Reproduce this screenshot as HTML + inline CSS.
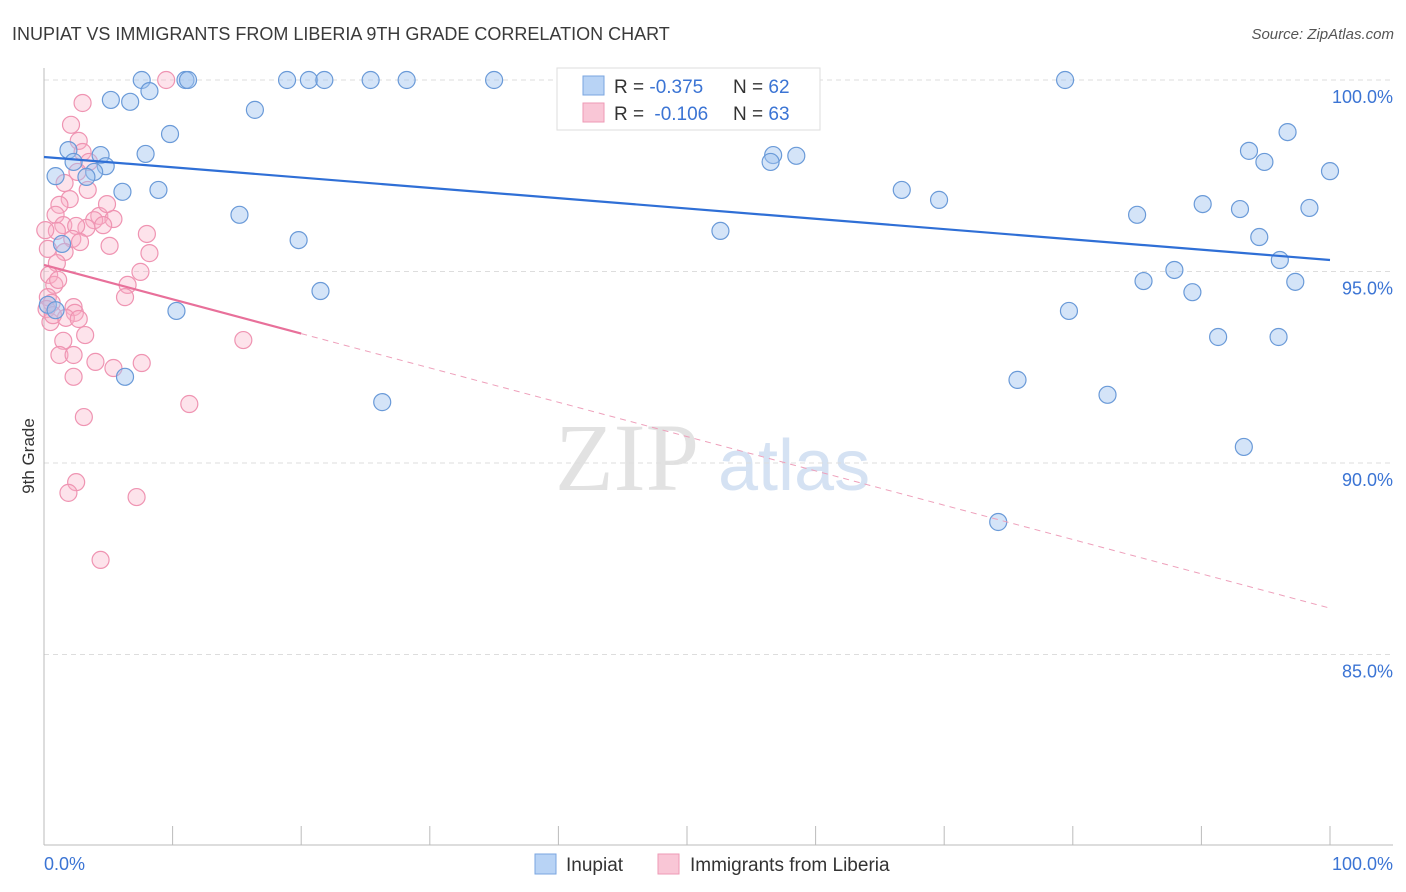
<!DOCTYPE html>
<html><head><meta charset="utf-8"><style>
body{margin:0;background:#fff;font-family:"Liberation Sans",sans-serif;}
svg{display:block}
</style></head><body>
<svg id="chart" width="1406" height="892" xmlns="http://www.w3.org/2000/svg">
<text x="12" y="40" font-size="18" fill="#3a3a3a">INUPIAT VS IMMIGRANTS FROM LIBERIA 9TH GRADE CORRELATION CHART</text>
<text x="1394" y="39" font-size="15" fill="#555" text-anchor="end" font-style="italic">Source: ZipAtlas.com</text>
<text x="34" y="456" font-size="17" fill="#333" text-anchor="middle" transform="rotate(-90 34 456)">9th Grade</text>
<text x="555" y="490" font-size="96" fill="#e2e2e2" font-family="Liberation Serif,serif">ZIP</text>
<text x="718" y="490" font-size="72" fill="#d5e2f3">atlas</text>
<g id="grid"></g><g id="axes"></g><g id="pts"></g><g id="trend"></g>
<g>
<rect x="557" y="68" width="263" height="62" fill="#fff" stroke="#ddd"/>
<rect x="583" y="76" width="21" height="19" fill="#b8d3f5" stroke="#7aa6e0"/>
<rect x="583" y="103" width="21" height="19" fill="#f9c6d6" stroke="#ee9ab5"/>
<text x="614" y="93" font-size="19" fill="#333">R = <tspan fill="#3b74d4">-0.375</tspan><tspan x="733">N = </tspan><tspan fill="#3b74d4">62</tspan></text>
<text x="614" y="120" font-size="19" fill="#333">R = <tspan fill="#3b74d4" dx="5">-0.106</tspan><tspan x="733">N = </tspan><tspan fill="#3b74d4">63</tspan></text>
</g>
<g>
<rect x="535" y="854" width="21" height="20" fill="#b8d3f5" stroke="#7aa6e0"/>
<text x="566" y="871" font-size="19" fill="#333">Inupiat</text>
<rect x="658" y="854" width="21" height="20" fill="#f9c6d6" stroke="#ee9ab5"/>
<text x="690" y="871" font-size="19" fill="#333">Immigrants from Liberia</text>
</g>
</svg>
<script>
const yTicks=[100,95,90,85];
const xTickLabels=["0.0%","100.0%"];
const blueX=[7.6,11.0,11.2,18.9,20.6,21.8,25.4,28.2,35.0,47.2,79.4,5.2,8.2,6.7,16.4,9.8,1.9,96.7,93.7,94.9,4.4,7.9,2.3,4.8,56.7,56.5,58.5,0.9,3.9,3.3,100,6.1,8.9,66.7,69.6,15.2,85.0,90.1,93.0,98.4,52.6,19.8,94.5,1.4,96.1,87.9,85.5,97.3,21.5,89.3,0.3,0.9,10.3,79.7,91.3,96.0,6.3,75.7,82.7,26.3,93.3,74.2];
const blueY=[100,100,100,100,100,100,100,100,100,100,100,99.48,99.71,99.43,99.22,98.59,98.17,98.64,98.15,97.86,98.04,98.07,97.86,97.75,98.04,97.86,98.02,97.49,97.6,97.47,97.62,97.08,97.13,97.13,96.87,96.48,96.48,96.76,96.63,96.66,96.06,95.82,95.9,95.72,95.3,95.04,94.75,94.73,94.49,94.46,94.13,93.99,93.97,93.97,93.29,93.29,92.25,92.17,91.78,91.59,90.42,88.46];
const pinkX=[9.5,3.0,2.1,2.7,3.0,3.5,2.6,1.6,3.4,2.0,1.2,0.9,4.3,5.4,4.9,3.9,3.3,4.6,1.5,1.0,2.5,8.0,2.2,5.1,2.8,0.3,8.2,1.6,1.0,7.5,0.4,0.8,6.5,6.3,0.3,0.6,0.2,2.3,2.4,1.7,2.7,0.5,3.2,15.5,1.5,1.2,2.3,4.0,5.4,7.6,2.3,11.3,3.1,2.5,1.9,7.2,4.4,0.7,1.1,0.1];
const pinkY=[100,99.4,98.83,98.41,98.12,97.86,97.6,97.31,97.13,96.89,96.74,96.48,96.45,96.37,96.76,96.34,96.14,96.21,96.21,96.06,96.19,95.98,95.85,95.67,95.77,95.59,95.48,95.51,95.22,94.99,94.91,94.65,94.65,94.33,94.33,94.18,94.02,94.07,93.92,93.79,93.76,93.68,93.34,93.21,93.19,92.82,92.82,92.64,92.48,92.61,92.25,91.54,91.2,89.5,89.22,89.11,87.47,93.86,94.78,96.08];
const blueTrend=[97.99,95.3];
const pinkTrend=[95.17,86.21];
const pinkSolidEnd=20;
const NS="http://www.w3.org/2000/svg";
const X=v=>44+v*12.86, Y=v=>80+(100-v)*38.3;
function mk(p,t,a){const e=document.createElementNS(NS,t);for(const k in a)e.setAttribute(k,a[k]);p.appendChild(e);return e;}
const grid=document.getElementById('grid'),axes=document.getElementById('axes'),pts=document.getElementById('pts'),tr=document.getElementById('trend');
yTicks.forEach(v=>{
 const l=mk(grid,'line',{x1:44,x2:1393,y1:Y(v),y2:Y(v),stroke:'#ddd','stroke-dasharray':'5,4'});
 
 
 const t=mk(grid,'text',{x:1393,y:Y(v)+23,'font-size':18,fill:'#3b74d4','text-anchor':'end'});
 t.textContent=v.toFixed(1)+'%';
 
 
});
let a=mk(axes,'line',{x1:44,x2:44,y1:68,y2:845,stroke:'#bbb'});


a=mk(axes,'line',{x1:44,x2:1393,y1:845,y2:845,stroke:'#bbb'});


for(let i=1;i<=10;i++){
 const t=mk(axes,'line',{x1:X(i*10),x2:X(i*10),y1:826,y2:845,stroke:'#bbb'});
 
 
}
[[X(0),'start',xTickLabels[0]],[1393,'end',xTickLabels[1]]].forEach(d=>{
 const t=mk(axes,'text',{x:d[0],y:870,'font-size':18,fill:'#3b74d4','text-anchor':d[1]});
 t.textContent=d[2];
 
 
});
pinkX.forEach((x,i)=>{
 const c=mk(pts,'circle',{cx:X(x),cy:Y(pinkY[i]),r:8.5,fill:'rgba(248,175,198,0.35)',stroke:'#ef94b2','stroke-width':1.2});
 
 
});
blueX.forEach((x,i)=>{
 const c=mk(pts,'circle',{cx:X(x),cy:Y(blueY[i]),r:8.5,fill:'rgba(160,196,240,0.45)',stroke:'#6a9ad8','stroke-width':1.2});
 
 
});
let l=mk(tr,'line',{x1:X(0),y1:Y(blueTrend[0]),x2:X(100),y2:Y(blueTrend[1]),stroke:'#2f6fd6','stroke-width':2.2});


const pAt=x=>pinkTrend[0]+(pinkTrend[1]-pinkTrend[0])*x/100;
l=mk(tr,'line',{x1:X(0),y1:Y(pinkTrend[0]),x2:X(pinkSolidEnd),y2:Y(pAt(pinkSolidEnd)),stroke:'#e8709a','stroke-width':2.2});


l=mk(tr,'line',{x1:X(pinkSolidEnd),y1:Y(pAt(pinkSolidEnd)),x2:X(100),y2:Y(pinkTrend[1]),stroke:'#eea0bb','stroke-width':1,'stroke-dasharray':'6,5'});


</script>
</body></html>
